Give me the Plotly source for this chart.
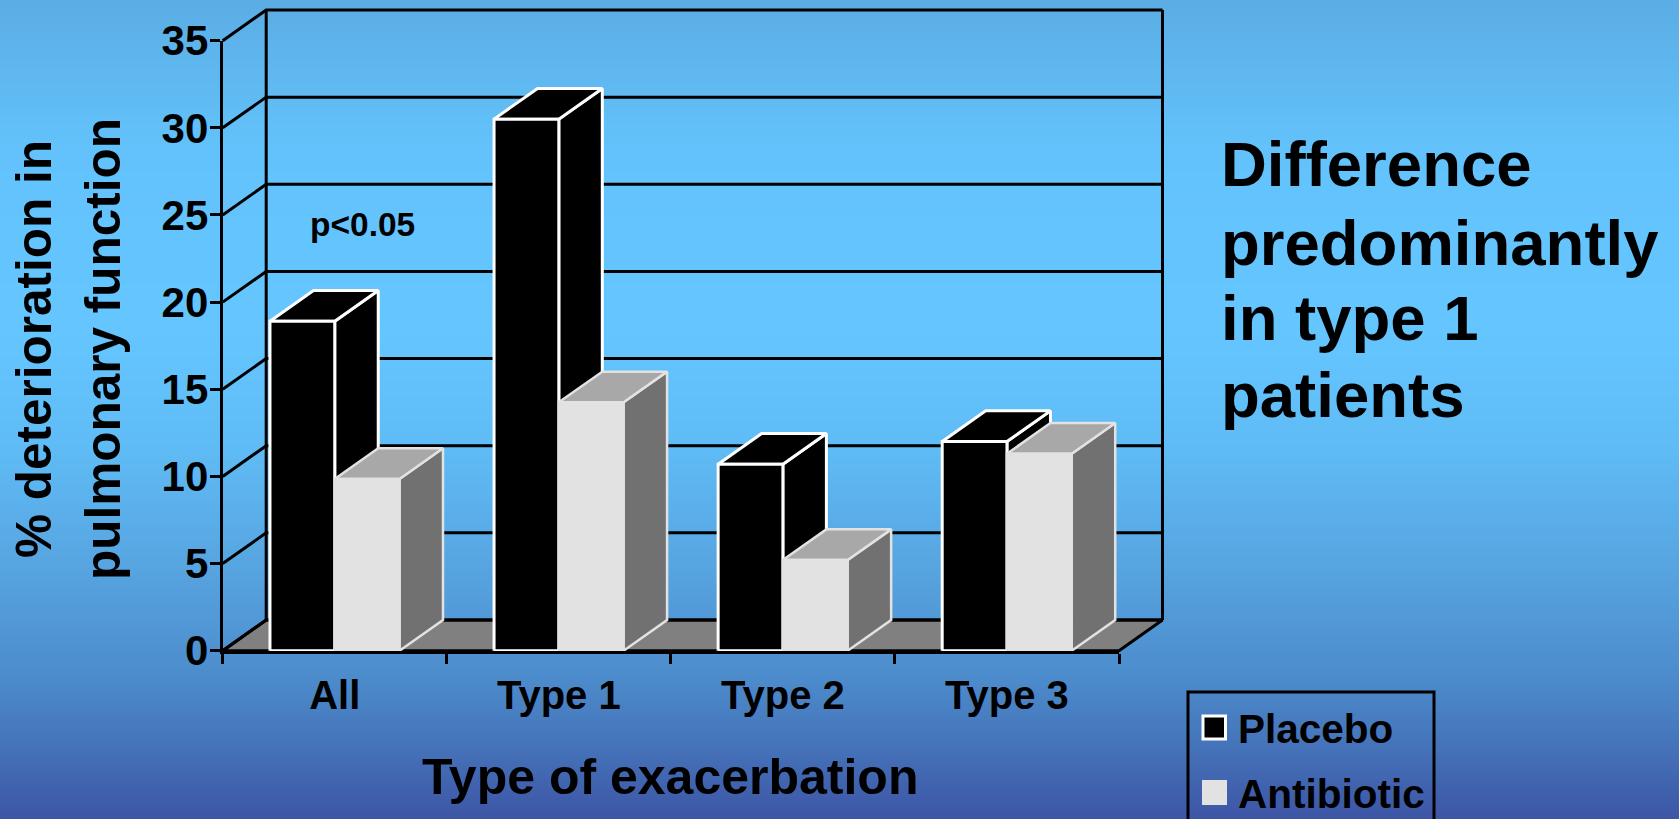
import numpy as np
import plotly.graph_objects as go

categories = ["All", "Type 1", "Type 2", "Type 3"]
placebo = [18.9, 30.5, 10.7, 12.0]
antibiotic = [9.85, 14.25, 5.2, 11.3]
y_ticks = [0, 5, 10, 15, 20, 25, 30, 35]
side_text = ["Difference", "predominantly", "in type 1", "patients"]

W, H = 1679, 819
AX_L, AX_R, AX_T, AX_B = 222.7, 1119.0, 40.7, 650.7
PX_X = (AX_R - AX_L) / 4
PX_Y = (AX_B - AX_T) / 35
DX, DY = 43.5 / PX_X, 30.7 / PX_Y
BAR_W = 0.289
FONT = "Liberation Sans"
BOLD = dict(family=FONT, weight=700, color="black")

full_x = [-0.5 - AX_L / PX_X, -0.5 + (W - AX_L) / PX_X]
full_y = [(AX_B - H) / PX_Y, AX_B / PX_Y]

# background gradient (fraction of height from the bottom, colour)
bg_stops = [(0.0, "#3D55A5"), (0.08, "#4470B7"), (0.17, "#4C8BCB"), (0.30, "#56A3DF"),
            (0.45, "#5FBBF5"), (0.60, "#65C6FF"), (0.82, "#63C2FB"), (1.0, "#5BADE4")]

fig = go.Figure()
fig.add_trace(go.Heatmap(
    x=full_x, y=np.linspace(full_y[0], full_y[1], 200), z=[[i / 199, i / 199] for i in range(200)],
    colorscale=[[a, c] for a, c in bg_stops], showscale=False, hoverinfo="skip", zsmooth="best",
    zmin=0, zmax=1))


def poly(xs, ys, fill, line, lw, name):
    fig.add_trace(go.Scatter(
        x=xs + xs[:1], y=ys + ys[:1], mode="lines", fill="toself", fillcolor=fill,
        line=dict(color=line, width=lw), name=name, showlegend=False, hoverinfo="skip"))


# floor
xl, xr = -0.5, 3.5
poly([xl, xr, xr + DX, xl + DX], [0, 0, DY, DY], "#808080", "black", 3, "floor")

# walls and gridlines
gx, gy = [], []
for v in y_ticks:
    gx += [xl, xl + DX, xr + DX, None]
    gy += [v, v + DY, v + DY, None]
gx += [xl + DX, xl + DX, None, xr + DX, xr + DX, None]
gy += [DY, 35 + DY, None, DY, 35 + DY, None]
fig.add_trace(go.Scatter(x=gx, y=gy, mode="lines", line=dict(color="black", width=3),
                         showlegend=False, hoverinfo="skip", name="walls"))


def bar3d(x0, x1, v, front, top, side, edge, lw, name):
    poly([x1, x1 + DX, x1 + DX, x1], [0, DY, v + DY, v], side, edge, lw, name + " side")
    poly([x0, x1, x1 + DX, x0 + DX], [v, v, v + DY, v + DY], top, edge, lw, name + " top")
    poly([x0, x1, x1, x0], [0, 0, v, v], front, edge, lw, name)


for i, cat in enumerate(categories):
    bar3d(i - BAR_W, i, placebo[i], "black", "black", "black", "white", 3, "Placebo " + cat)
    bar3d(i, i + BAR_W, antibiotic[i], "#E2E2E2", "#A8A8A8", "#717171", "#E2E2E2", 2.5, "Antibiotic " + cat)

# axis carrier (ticks and labels only)
fig.add_trace(go.Scatter(x=categories, y=placebo, mode="markers", marker=dict(opacity=0),
                         xaxis="x2", yaxis="y2", showlegend=False, hoverinfo="skip"))


def xp(px):
    return px / W


def yp(px):
    return 1 - px / H


def note(text, x, y, size, xanchor="left", angle=0):
    fig.add_annotation(text=text, xref="paper", yref="paper", x=xp(x), y=yp(y), showarrow=False,
                       xanchor=xanchor, yanchor="middle", textangle=angle, align="left",
                       font=dict(size=size, **BOLD))


for line, ypx in zip(side_text, [164, 243, 318, 395]):
    note(line, 1219, ypx, 63.5)
note("p&lt;0.05", 308, 224, 33.5)
note("Type of exacerbation", 670, 777, 50, xanchor="center")
note("% deterioration in", 33, 349, 49.5, xanchor="center", angle=-90)
note("pulmonary function", 102, 349, 49.5, xanchor="center", angle=-90)
note("Placebo", 1236, 729, 40.5)
note("Antibiotic", 1236, 794, 40.5)

shapes = [
    dict(type="rect", xref="paper", yref="paper", x0=xp(1188), x1=xp(1434), y0=yp(692), y1=yp(835),
         line=dict(color="black", width=3), fillcolor="rgba(0,0,0,0)"),
    dict(type="rect", xref="paper", yref="paper", x0=xp(1203), x1=xp(1225.5), y0=yp(716), y1=yp(739),
         line=dict(color="white", width=3), fillcolor="black"),
    dict(type="rect", xref="paper", yref="paper", x0=xp(1202), x1=xp(1227), y0=yp(780), y1=yp(805),
         line=dict(color="#E2E2E2", width=0), fillcolor="#E2E2E2"),
]

fig.update_layout(
    width=W, height=H, margin=dict(l=0, r=0, t=0, b=0), showlegend=False,
    paper_bgcolor="#65C6FF", plot_bgcolor="rgba(0,0,0,0)", shapes=shapes,
    xaxis=dict(domain=[0, 1], range=full_x, visible=False, fixedrange=True, automargin=False),
    yaxis=dict(domain=[0, 1], range=full_y, visible=False, fixedrange=True, automargin=False),
    xaxis2=dict(domain=[AX_L / W, AX_R / W], type="category", categoryorder="array", categoryarray=categories,
                range=[-0.5, 3.5], tickson="boundaries", anchor="y2", showgrid=False, zeroline=False,
                showline=True, linecolor="black", linewidth=3, ticks="outside", ticklen=10, tickwidth=2.6,
                tickcolor="black", tickfont=dict(size=40, **BOLD), ticklabelstandoff=7, fixedrange=True,
                automargin=False),
    yaxis2=dict(domain=[1 - AX_B / H, 1 - AX_T / H], range=[0, 35], tickvals=y_ticks, anchor="x2",
                showgrid=False, zeroline=False, showline=True, linecolor="black", linewidth=3,
                ticks="outside", ticklen=10, tickwidth=2.6, tickcolor="black", ticklabelstandoff=-7,
                tickfont=dict(size=42, **BOLD), fixedrange=True, automargin=False),
)

fig.write_html("out.html", config=dict(displayModeBar=False),
               post_script="document.body.style.margin='0';document.body.style.overflow='hidden';")
